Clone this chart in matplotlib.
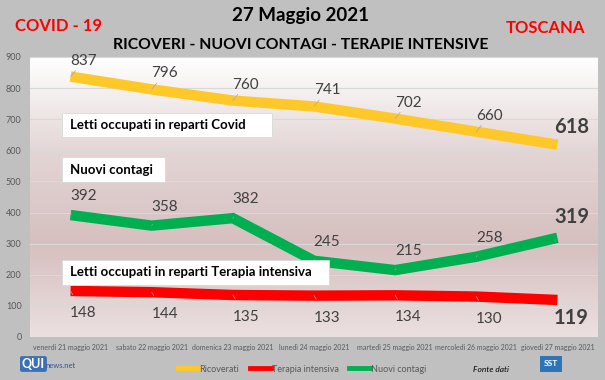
import numpy as np
import matplotlib
matplotlib.use('Agg')
import matplotlib.pyplot as plt
from matplotlib.colors import LinearSegmentedColormap
from matplotlib.lines import Line2D

plt.rcParams['font.family'] = ['Lato', 'DejaVu Sans']

giorni = ['venerdì 21 maggio 2021', 'sabato 22 maggio 2021', 'domenica 23 maggio 2021',
          'lunedì 24 maggio 2021', 'martedì 25 maggio 2021', 'mercoledì 26 maggio 2021',
          'giovedì 27 maggio 2021']
ricoverati = [837, 796, 760, 741, 702, 660, 618]
nuovi_contagi = [392, 358, 382, 245, 215, 258, 319]
terapia_intensiva = [148, 144, 135, 133, 134, 130, 119]

GIALLO = '#FFC829'
ROSSO = '#FF0000'
VERDE = '#00B050'
GRIGIO_TESTO = '#404040'

W, H = 605, 380
fig = plt.figure(figsize=(W / 100, H / 100), dpi=100)
fig.patch.set_facecolor('#c0c0c0')

def px_axes(x0, y0, x1, y1):
    # coordinate in pixel (origine in alto a sinistra)
    return [x0 / W, 1 - y1 / H, (x1 - x0) / W, (y1 - y0) / H]

ax = fig.add_axes(px_axes(30, 57, 598, 337))
x = np.arange(len(giorni))

# sfondo sfumato dell'area del grafico
cmap = LinearSegmentedColormap.from_list('sfondo', ['#ebe0e0', '#d6bfbf', '#e4d6d6', '#ffffff'])
grad = np.linspace(0, 1, 256).reshape(-1, 1)
ax.imshow(grad, cmap=cmap, aspect='auto', extent=[-0.5, 6.5, 0, 900],
          origin='lower', zorder=0)

ax.set_xlim(-0.5, 6.5)
ax.set_ylim(0, 900)
ax.set_yticks(range(0, 901, 100))
for yv in range(100, 901, 100):
    ax.axhline(yv, color='#d9d9d9', lw=0.8, zorder=1)
for s in ax.spines.values():
    s.set_visible(False)
ax.tick_params(length=0)
ax.tick_params(axis='y', labelsize=6.5, labelcolor='#595959', pad=6)
ax.set_xticks(x)
ax.set_xticklabels(giorni, fontsize=5, color='#595959')
ax.tick_params(axis='x', pad=5)

lw = 7.5
for serie, colore in [(ricoverati, GIALLO), (nuovi_contagi, VERDE), (terapia_intensiva, ROSSO)]:
    ax.plot(x, serie, color=colore, lw=lw, solid_capstyle='butt', solid_joinstyle='miter', zorder=3)

def etichette(valori, dy, sotto=False):
    for i, v in enumerate(valori):
        if i == len(valori) - 1:
            ax.annotate(str(v), (i, v), xytext=(14, dy + (4 if sotto else 2)),
                        textcoords='offset pixels', ha='center', va='center',
                        fontsize=14.5, fontweight='bold', color=GRIGIO_TESTO, zorder=5)
        else:
            ax.annotate(str(v), (i, v), xytext=(13, dy), textcoords='offset pixels',
                        ha='center', va='center', fontsize=11, color=GRIGIO_TESTO, zorder=5,
                        arrowprops=dict(arrowstyle='-', color='#a6a6a6', lw=0.5,
                                        shrinkA=7, shrinkB=0))

etichette(ricoverati, 16)
etichette(nuovi_contagi, 19)
etichette(terapia_intensiva, -22, sotto=True)

def box(x0, y0, x1, y1, testo):
    fig.patches.append(plt.Rectangle((x0 / W, 1 - y1 / H), (x1 - x0) / W, (y1 - y0) / H,
                                     transform=fig.transFigure, facecolor='white',
                                     edgecolor='#d9d9d9', lw=0.6, zorder=6))
    fig.text((x0 + 8) / W, 1 - ((y0 + y1) / 2) / H, testo, fontsize=9.5, fontweight='bold',
             color='black', va='center', ha='left', zorder=7)

box(62, 113, 272, 137, 'Letti occupati in reparti Covid')
box(62, 157, 165, 182, 'Nuovi contagi')
box(62, 260, 329, 285, 'Letti occupati in reparti Terapia intensiva')

# titoli
fig.text(300 / W, 1 - 16 / H, '27 Maggio 2021', ha='center', va='center',
         fontsize=13.5, fontweight='bold', color='black')
fig.text(301 / W, 1 - 45 / H, 'RICOVERI - NUOVI CONTAGI - TERAPIE INTENSIVE', ha='center',
         va='center', fontsize=11.3, fontweight='bold', color='black')
fig.text(15 / W, 1 - 26 / H, 'COVID - 19', ha='left', va='center',
         fontsize=12, fontweight='bold', color=ROSSO)
fig.text(585 / W, 1 - 28 / H, 'TOSCANA', ha='right', va='center',
         fontsize=12, fontweight='bold', color=ROSSO)

# legenda
voci = [('Ricoverati', GIALLO), ('Terapia intensiva', ROSSO), ('Nuovi contagi', VERDE)]
handles = [Line2D([0], [0], color=c, lw=3.5) for _, c in voci]
fig.legend(handles, [n for n, _ in voci], loc='center', bbox_to_anchor=(302 / W, 1 - 369 / H),
           ncol=3, frameon=False, fontsize=6.5, labelcolor='#595959', handlelength=2.3,
           handletextpad=0.1, columnspacing=1.2)
fig.text(491 / W, 1 - 369 / H, 'Fonte dati', ha='center', va='center', fontsize=6,
         style='italic', color='black')

# loghi (approssimati)
fig.text(45 / W, 1 - 364 / H, 'QUI', ha='right', va='center', fontsize=9, fontweight='bold',
         color='white', bbox=dict(boxstyle='round,pad=0.15', fc='#3b6fb6', ec='none'))
fig.text(46 / W, 1 - 366 / H, 'news.net', ha='left', va='center', fontsize=5.5,
         color='#2f5597')
fig.text(551 / W, 1 - 364 / H, 'SST', ha='center', va='center', fontsize=6, fontweight='bold',
         color='white', bbox=dict(boxstyle='square,pad=0.5', fc='#2e75b6', ec='none'))

fig.savefig('out.png', dpi=100, facecolor=fig.get_facecolor())
